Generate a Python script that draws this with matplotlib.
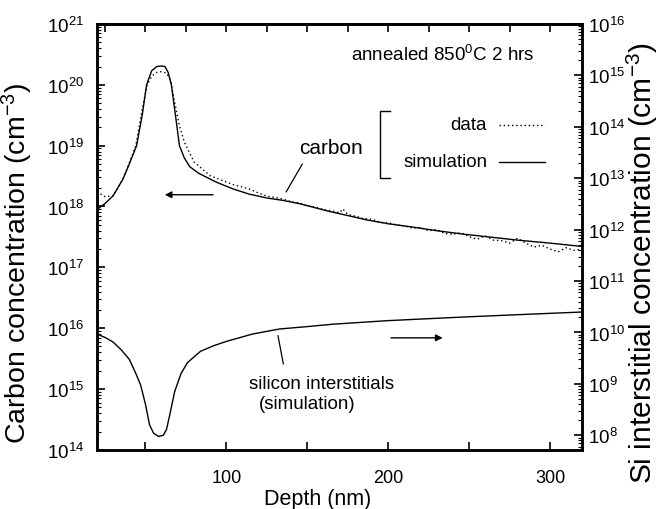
import matplotlib
matplotlib.use("Agg")
import matplotlib.pyplot as plt
from matplotlib.ticker import FixedLocator, LogLocator, NullFormatter

plt.rcParams['font.family'] = ['Liberation Sans', 'DejaVu Sans']
plt.rcParams['mathtext.fontset'] = 'custom'
plt.rcParams['mathtext.rm'] = 'Liberation Sans'
plt.rcParams['mathtext.it'] = 'Liberation Sans:italic'
plt.rcParams['mathtext.bf'] = 'Liberation Sans:bold'
plt.rcParams['mathtext.default'] = 'regular'

# x ticks
x_ticks = [50, 100, 150, 200, 250, 300]
x_tick_labels = ['', '100', '', '200', '', '300']
top_ticks = [25, 50, 75, 100, 125, 150, 175, 200, 225, 250, 275, 300]

# Carbon simulation (left axis, cm^-3)
sim_depth = [20, 25, 30, 36, 40, 44.5, 48, 50.7, 53.8, 57, 60, 62, 64, 66, 68.5, 71, 74,
             77.4, 83, 94, 104, 114, 125, 135, 146, 162, 175, 187, 200, 215, 230, 247,
             265, 280, 300, 320]
sim_carbon = [8.9e17, 1.12e18, 1.5e18, 2.8e18, 5.0e18, 1.0e19, 3.2e19, 1.0e20, 1.7e20,
              2.0e20, 2.04e20, 2.0e20, 1.6e20, 1.0e20, 3.2e19, 1.0e19, 6.3e18, 4.5e18,
              3.5e18, 2.5e18, 1.95e18, 1.6e18, 1.38e18, 1.26e18, 1.1e18, 8.5e17, 7.1e17,
              6.0e17, 5.2e17, 4.6e17, 4.0e17, 3.5e17, 3.1e17, 2.8e17, 2.5e17, 2.2e17]

# Carbon SIMS data (left axis, cm^-3)
data_depth = [20, 25, 30, 36, 40, 44, 48, 51, 54, 57, 60, 63, 65.5, 67.5, 71, 74, 80, 90,
              104, 114, 120, 125, 130, 135, 140, 145, 150, 155, 160, 165, 170, 172, 175,
              180, 185, 190, 195, 200, 205, 210, 215, 220, 225, 230, 235, 240, 245, 250,
              255, 260, 265, 270, 275, 280, 285, 290, 295, 300, 305, 310, 315, 320]
data_carbon = [1.75e18, 1.45e18, 1.5e18, 2.8e18, 5.2e18, 1.0e19, 4.0e19, 1.0e20, 1.4e20,
               1.6e20, 1.65e20, 1.55e20, 1.2e20, 6.0e19, 2.1e19, 1.15e19, 5.4e18, 3.2e18,
               2.3e18, 1.95e18, 1.66e18, 1.48e18, 1.41e18, 1.32e18, 1.2e18, 1.15e18,
               1.02e18, 9.8e17, 8.9e17, 8.5e17, 7.9e17, 9.1e17, 7.4e17, 6.9e17, 6.3e17,
               6.2e17, 5.5e17, 5.4e17, 5.0e17, 4.8e17, 4.4e17, 4.5e17, 4.0e17, 4.2e17,
               3.6e17, 3.5e17, 3.7e17, 3.2e17, 2.9e17, 3.3e17, 2.8e17, 2.75e17, 2.5e17,
               3.0e17, 2.5e17, 2.15e17, 2.3e17, 2.0e17, 1.8e17, 2.1e17, 1.9e17, 2.0e17]

# Silicon interstitials simulation (right axis, cm^-3)
si_depth = [20, 25, 30, 35, 40, 44, 47, 50, 52.5, 55, 58, 61, 63, 65, 68, 72, 76, 84, 92,
            100, 116, 133, 150, 166, 200, 247, 285, 320]
si_interstitial = [9.3e9, 8.0e9, 6.5e9, 4.6e9, 3.0e9, 1.6e9, 9.5e8, 4.0e8, 1.6e8, 1.1e8,
                   9.5e7, 1.0e8, 1.3e8, 2.5e8, 7.0e8, 1.6e9, 2.6e9, 4.3e9, 5.5e9, 6.7e9,
                   9.3e9, 1.17e10, 1.3e10, 1.45e10, 1.7e10, 2.0e10, 2.25e10, 2.5e10]

fig = plt.figure(figsize=(6.64, 5.10), dpi=100)
ax = fig.add_axes([0.146, 0.116, 0.731, 0.835])
ax2 = ax.twinx()

ax.plot(sim_depth, sim_carbon, color='black', lw=1.0)
ax.plot(data_depth, data_carbon, color='black', lw=1.0, linestyle=(0, (1, 2)))
ax2.plot(si_depth, si_interstitial, color='black', lw=1.0)

ax.set_yscale('log')
ax2.set_yscale('log')
ax.set_xlim(20, 320)
ax.set_ylim(1e14, 1e21)
ax2.set_ylim(10 ** 7.717, 1e16)

ax.set_xticks(x_ticks)
ax.set_xticklabels(x_tick_labels)
for a in (ax, ax2):
    a.yaxis.set_major_locator(LogLocator(base=10, numticks=20))
    a.yaxis.set_minor_locator(LogLocator(base=10, subs=range(2, 10), numticks=20))
    a.yaxis.set_minor_formatter(NullFormatter())

ax.tick_params(axis='x', which='major', direction='in', length=6, width=1.2, labelsize=13, pad=14)
ax.tick_params(axis='y', which='major', direction='in', length=6, width=1.2, labelsize=13.5, pad=9)
ax.tick_params(axis='y', which='minor', direction='in', length=3, width=0.8)
ax.tick_params(axis='x', top=False)
ax2.tick_params(axis='y', which='major', direction='in', length=6, width=1.2, labelsize=13.5, pad=4)
ax2.tick_params(axis='y', which='minor', direction='in', length=3, width=0.8)

top = ax.secondary_xaxis('top')
top.xaxis.set_major_locator(FixedLocator(top_ticks))
top.tick_params(direction='in', length=6, width=1.2, labeltop=False)

for a in (ax, ax2):
    for s in a.spines.values():
        s.set_linewidth(1.8)
top.spines['top'].set_linewidth(1.8)

ax.set_xlabel('Depth (nm)', fontsize=15.5)
ax.xaxis.set_label_coords(0.454, -0.09)
ax.set_ylabel('Carbon concentration (cm$^{-3}$)', fontsize=20.5)
ax.yaxis.set_label_coords(-0.128, 0.44)
ax2.set_ylabel('Si interstitial concentration (cm$^{-3}$)', fontsize=21.5, rotation=90)
ax2.yaxis.set_label_coords(1.087, 0.44)

# annotations (axes fraction)
tr = ax.transAxes
ax.text(0.713, 0.93, 'annealed 850$^0$C 2 hrs', transform=tr, ha='center', va='center', fontsize=13.5)
ax.text(0.482, 0.711, 'carbon', transform=tr, ha='center', va='center', fontsize=15)
ax.plot([0.604, 0.584, 0.584, 0.604], [0.796, 0.796, 0.638, 0.638], transform=tr,
        color='black', lw=1.0)
ax.text(0.804, 0.763, 'data', transform=tr, ha='right', va='center', fontsize=13.5)
ax.text(0.804, 0.676, 'simulation', transform=tr, ha='right', va='center', fontsize=13.5)
ax.plot([0.829, 0.924], [0.763, 0.763], transform=tr, color='black', lw=1.0,
        linestyle=(0, (1, 2)))
ax.plot([0.829, 0.924], [0.676, 0.676], transform=tr, color='black', lw=1.0)
ax.annotate('', xy=(0.134, 0.599), xytext=(0.245, 0.599), xycoords=tr, textcoords=tr,
            arrowprops=dict(arrowstyle='-|>', color='black', lw=1.0, mutation_scale=10))
ax.annotate('', xy=(0.718, 0.263), xytext=(0.600, 0.263), xycoords=tr, textcoords=tr,
            arrowprops=dict(arrowstyle='-|>', color='black', lw=1.0, mutation_scale=10))
ax.plot([0.423, 0.390], [0.671, 0.606], transform=tr, color='black', lw=0.9)
ax.plot([0.373, 0.384], [0.268, 0.202], transform=tr, color='black', lw=0.9)
ax.text(0.462, 0.155, 'silicon interstitials', transform=tr, ha='center', va='center', fontsize=13.5)
ax.text(0.434, 0.108, '(simulation)', transform=tr, ha='center', va='center', fontsize=13.5)

fig.savefig('out.png', dpi=100)
